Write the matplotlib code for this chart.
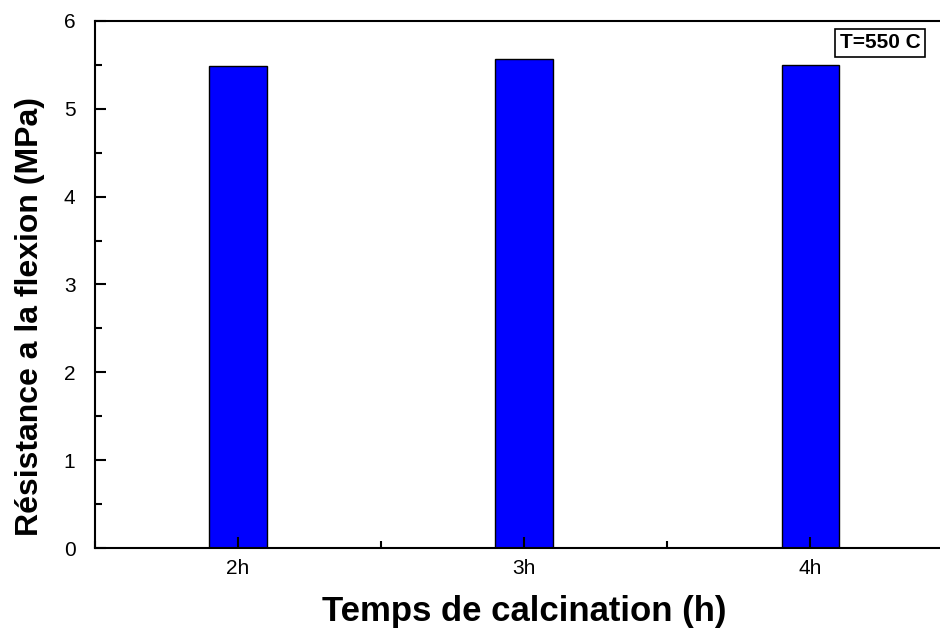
import matplotlib.pyplot as plt
from matplotlib.ticker import MultipleLocator

plt.rcParams['font.family'] = ['Liberation Sans', 'DejaVu Sans']

# flexural strength vs calcination time
durees = [2, 3, 4]
etiquettes = ['2h', '3h', '4h']
resistance = [5.48, 5.57, 5.50]

fig = plt.figure(figsize=(9.4, 6.3), dpi=100)
ax = fig.add_axes([0.101, 0.130, 0.913, 0.837])

ax.bar(durees, resistance, width=0.2, color='#0000ff', edgecolor='black', linewidth=1)

ax.set_xlim(1.5, 4.5)
ax.set_ylim(0, 6)
ax.set_xticks(durees)
ax.set_xticklabels(etiquettes)
ax.xaxis.set_minor_locator(MultipleLocator(0.5))
ax.yaxis.set_major_locator(MultipleLocator(1))
ax.yaxis.set_minor_locator(MultipleLocator(0.5))
ax.tick_params(which='both', direction='in', width=1.5, labelsize=15, top=False, right=False)
ax.tick_params(which='major', length=8)
ax.tick_params(which='minor', length=5)
ax.tick_params(axis='x', pad=8)
ax.tick_params(axis='y', pad=14)
for s in ax.spines.values():
    s.set_linewidth(1.5)

ax.set_xlabel('Temps de calcination (h)', fontsize=25, fontweight='bold', labelpad=12)
ax.set_ylabel('Résistance a la flexion (MPa)', fontsize=23, fontweight='bold')
ax.yaxis.set_label_coords(-0.058, 0.44)

ax.text(0.868, 0.958, 'T=550 C', transform=ax.transAxes, fontsize=15, fontweight='bold',
        va='center', ha='left',
        bbox=dict(boxstyle='square,pad=0.22', facecolor='white', edgecolor='black', linewidth=1.2))

fig.savefig('out.png', dpi=100)
